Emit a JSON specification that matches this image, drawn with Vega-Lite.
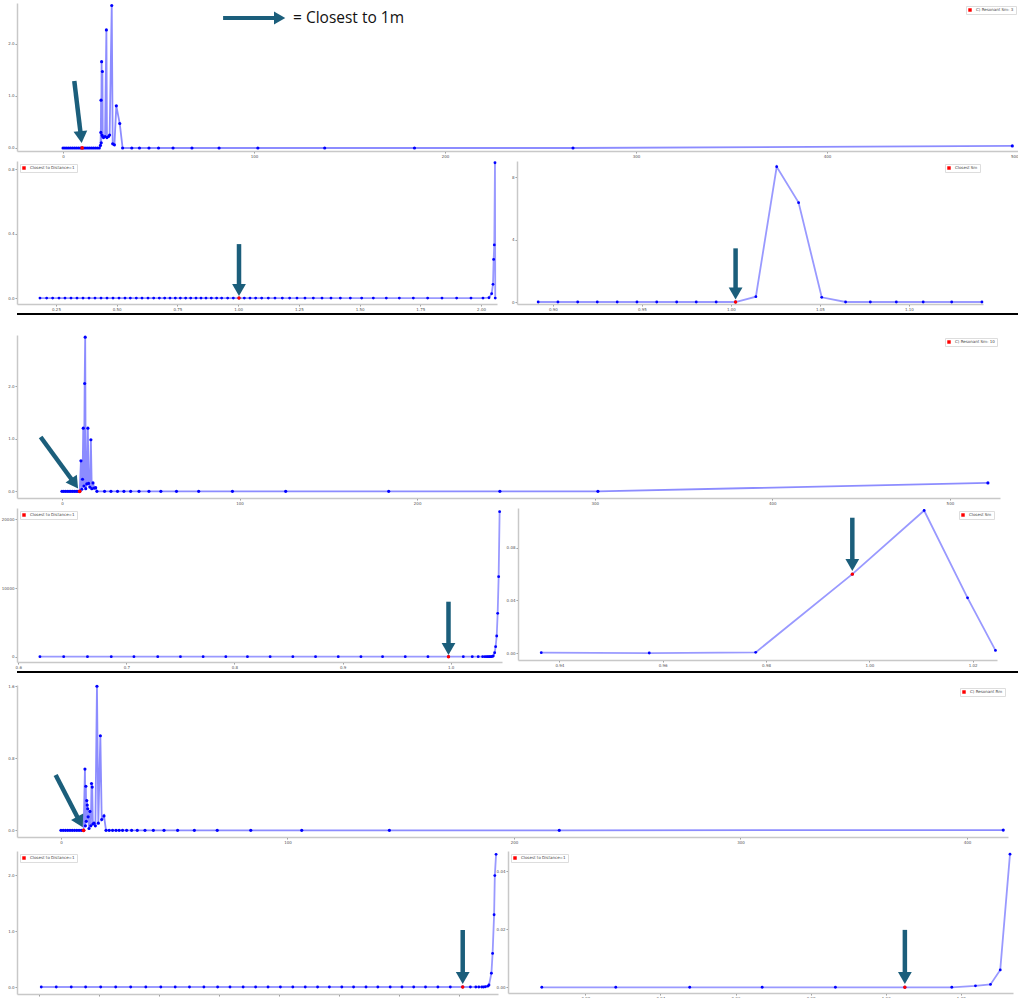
{
"$schema": "https://vega.github.io/schema/vega-lite/v6.json",
"padding": {"left": 0, "top": 1, "right": 0, "bottom": 0},
"background": "white",
"spacing": 9,
"resolve": {"scale": {"color": "independent"}, "legend": {"color": "independent"}},
"config": {
 "view": {"stroke": null},
 "font": "DejaVu Sans",
 "axis": {"grid": false, "title": null, "labelFontSize": 4, "labelColor": "#555", "domainColor": "#c8c8c8", "domainWidth": 1.5, "tickColor": "#999", "tickSize": 2, "labelPadding": 1},
 "axisY": {"minExtent": 17},
 "axisX": {"minExtent": 8},
 "legend": {"labelFontSize": 4, "symbolSize": 12, "symbolType": "square", "padding": 2, "fillColor": "white", "strokeColor": "#dddddd", "offset": 3, "labelLimit": 300, "rowPadding": 0, "symbolStrokeWidth": 0, "labelColor": "#444"}
},
"datasets": {
 "g1t": [
  {"x":0,"y":0,"c":0},{"x":1,"y":0,"c":0},{"x":2,"y":0,"c":0},{"x":3,"y":0,"c":0},{"x":4,"y":0,"c":0},{"x":5,"y":0,"c":0},{"x":6,"y":0,"c":0},{"x":7,"y":0,"c":0},{"x":8,"y":0,"c":0},{"x":9,"y":0,"c":0},{"x":10,"y":0,"c":1},{"x":11,"y":0,"c":0},{"x":12,"y":0,"c":0},{"x":13,"y":0,"c":0},{"x":14,"y":0,"c":0},{"x":15,"y":0,"c":0},{"x":16,"y":0,"c":0},{"x":17,"y":0,"c":0},{"x":18,"y":0,"c":0},{"x":19,"y":0,"c":0},
  {"x":19.6,"y":0.05,"c":0},{"x":19.8,"y":0.3,"c":0},{"x":19.9,"y":0.92,"c":0},{"x":20.0,"y":0.1,"c":0},{"x":20.2,"y":1.66,"c":0},{"x":20.4,"y":0.25,"c":0},{"x":20.6,"y":1.47,"c":0},{"x":20.8,"y":0.22,"c":0},{"x":21.2,"y":0.2,"c":0},{"x":22.0,"y":0.22,"c":0},{"x":22.7,"y":2.27,"c":0},{"x":23.0,"y":0.2,"c":0},{"x":23.8,"y":0.22,"c":0},{"x":24.4,"y":0.25,"c":0},{"x":25.5,"y":2.74,"c":0},{"x":26.0,"y":0.08,"c":0},{"x":26.9,"y":0.06,"c":0},{"x":27.9,"y":0.81,"c":0},{"x":29.7,"y":0.47,"c":0},{"x":31.2,"y":0,"c":0},
  {"x":36,"y":0,"c":0},{"x":40,"y":0,"c":0},{"x":45,"y":0,"c":0},{"x":50,"y":0,"c":0},{"x":57.6,"y":0,"c":0},{"x":67.5,"y":0,"c":0},{"x":81.7,"y":0,"c":0},{"x":102,"y":0,"c":0},{"x":137,"y":0,"c":0},{"x":184,"y":0,"c":0},{"x":267,"y":0,"c":0},{"x":497,"y":0.04,"c":0}
 ],
 "a1t": [{"x1":5.9,"y1":1.29,"x2":9.42,"y2":0.21}],
 "note": [{"x1":83.8,"x2":112,"y":2.5,"hx":113.4,"tx":120.4,"t":"=  Closest to 1m"}],
 "g1bl": [
  {"x":0.184,"y":0,"c":0},{"x":0.2116,"y":0,"c":0},{"x":0.2363,"y":0,"c":0},{"x":0.2624,"y":0,"c":0},{"x":0.2871,"y":0,"c":0},{"x":0.3118,"y":0,"c":0},{"x":0.3365,"y":0,"c":0},{"x":0.3613,"y":0,"c":0},{"x":0.386,"y":0,"c":0},{"x":0.4107,"y":0,"c":0},{"x":0.4354,"y":0,"c":0},{"x":0.4601,"y":0,"c":0},{"x":0.4848,"y":0,"c":0},{"x":0.5095,"y":0,"c":0},{"x":0.5342,"y":0,"c":0},{"x":0.5561,"y":0,"c":0},{"x":0.5808,"y":0,"c":0},{"x":0.6042,"y":0,"c":0},{"x":0.6289,"y":0,"c":0},{"x":0.6522,"y":0,"c":0},{"x":0.6755,"y":0,"c":0},{"x":0.6975,"y":0,"c":0},{"x":0.7194,"y":0,"c":0},{"x":0.7414,"y":0,"c":0},{"x":0.762,"y":0,"c":0},{"x":0.7839,"y":0,"c":0},{"x":0.8045,"y":0,"c":0},{"x":0.8265,"y":0,"c":0},{"x":0.8471,"y":0,"c":0},{"x":0.8676,"y":0,"c":0},{"x":0.8896,"y":0,"c":0},{"x":0.9115,"y":0,"c":0},{"x":0.9321,"y":0,"c":0},{"x":0.9568,"y":0,"c":0},{"x":0.9801,"y":0,"c":0},{"x":1.0035,"y":0,"c":1},
  {"x":1.0254,"y":0,"c":0},{"x":1.0488,"y":0,"c":0},{"x":1.0721,"y":0,"c":0},{"x":1.0968,"y":0,"c":0},{"x":1.1242,"y":0,"c":0},{"x":1.1517,"y":0,"c":0},{"x":1.1819,"y":0,"c":0},{"x":1.212,"y":0,"c":0},{"x":1.2422,"y":0,"c":0},{"x":1.2752,"y":0,"c":0},{"x":1.3095,"y":0,"c":0},{"x":1.3452,"y":0,"c":0},{"x":1.3822,"y":0,"c":0},{"x":1.4207,"y":0,"c":0},{"x":1.4618,"y":0,"c":0},{"x":1.5085,"y":0,"c":0},{"x":1.5565,"y":0,"c":0},{"x":1.61,"y":0,"c":0},{"x":1.6636,"y":0,"c":0},{"x":1.7212,"y":0,"c":0},{"x":1.7802,"y":0,"c":0},{"x":1.8392,"y":0,"c":0},{"x":1.8996,"y":0,"c":0},{"x":1.9586,"y":0,"c":0},{"x":2.008,"y":0,"c":0},{"x":2.0327,"y":0.002,"c":0},{"x":2.0437,"y":0.027,"c":0},{"x":2.0492,"y":0.085,"c":0},{"x":2.0519,"y":0.24,"c":0},{"x":2.0546,"y":0.33,"c":0},{"x":2.0574,"y":0.84,"c":0},{"x":2.0585,"y":0,"c":0}
 ],
 "a1bl": [{"x1":1.0035,"y1":0.335,"x2":1.0035,"y2":0.05}],
 "g1br": [
  {"x":0.8917,"y":0,"c":0},{"x":0.9028,"y":0,"c":0},{"x":0.9139,"y":0,"c":0},{"x":0.9249,"y":0,"c":0},{"x":0.9361,"y":0,"c":0},{"x":0.9472,"y":0,"c":0},{"x":0.9583,"y":0,"c":0},{"x":0.9695,"y":0,"c":0},{"x":0.9805,"y":0,"c":0},{"x":0.9917,"y":0,"c":0},{"x":1.0026,"y":0,"c":1},{"x":1.014,"y":0.34,"c":0},{"x":1.0257,"y":8.67,"c":0},{"x":1.038,"y":6.37,"c":0},{"x":1.051,"y":0.3,"c":0},{"x":1.0644,"y":0,"c":0},{"x":1.0783,"y":0,"c":0},{"x":1.0929,"y":0,"c":0},{"x":1.108,"y":0,"c":0},{"x":1.124,"y":0,"c":0},{"x":1.141,"y":0,"c":0}
 ],
 "a1br": [{"x1":1.0026,"y1":3.44,"x2":1.0026,"y2":0.545}],
 "g2t": [
  {"x":0,"y":0,"c":0},{"x":1,"y":0,"c":0},{"x":2,"y":0,"c":0},{"x":3,"y":0,"c":0},{"x":4,"y":0,"c":0},{"x":5,"y":0,"c":0},{"x":6,"y":0,"c":0},{"x":7,"y":0,"c":0},{"x":8,"y":0,"c":0},{"x":9,"y":0,"c":0},{"x":10,"y":0,"c":1},
  {"x":10.7,"y":0.58,"c":0},{"x":11.2,"y":0.04,"c":0},{"x":11.6,"y":0.23,"c":0},{"x":12.0,"y":1.2,"c":0},{"x":12.4,"y":0.1,"c":0},{"x":12.8,"y":2.05,"c":0},{"x":13.1,"y":2.93,"c":0},{"x":13.4,"y":0.05,"c":0},{"x":14.0,"y":0.14,"c":0},{"x":14.6,"y":1.2,"c":0},{"x":15.0,"y":0.15,"c":0},{"x":15.7,"y":0.08,"c":0},{"x":16.3,"y":0.98,"c":0},{"x":16.8,"y":0.05,"c":0},{"x":17.5,"y":0.16,"c":0},{"x":18.2,"y":0.06,"c":0},{"x":19.0,"y":0.07,"c":0},{"x":19.7,"y":0,"c":0},
  {"x":24,"y":0,"c":0},{"x":27.6,"y":0,"c":0},{"x":31.3,"y":0,"c":0},{"x":34.9,"y":0,"c":0},{"x":38.7,"y":0,"c":0},{"x":43.4,"y":0,"c":0},{"x":49,"y":0,"c":0},{"x":55.7,"y":0,"c":0},{"x":64.5,"y":0,"c":0},{"x":77,"y":0,"c":0},{"x":96,"y":0,"c":0},{"x":126,"y":0,"c":0},{"x":184,"y":0,"c":0},{"x":246.6,"y":0,"c":0},{"x":301.8,"y":0,"c":0},{"x":521.4,"y":0.16,"c":0}
 ],
 "a2t": [{"x1":-12.0,"y1":1.032,"x2":7.15,"y2":0.148}],
 "g2bl": [
  {"x":0.620,"y":0,"c":0},{"x":0.642,"y":0,"c":0},{"x":0.664,"y":0,"c":0},{"x":0.686,"y":0,"c":0},{"x":0.707,"y":0,"c":0},{"x":0.729,"y":0,"c":0},{"x":0.750,"y":0,"c":0},{"x":0.771,"y":0,"c":0},{"x":0.792,"y":0,"c":0},{"x":0.812,"y":0,"c":0},{"x":0.833,"y":0,"c":0},{"x":0.854,"y":0,"c":0},{"x":0.875,"y":0,"c":0},{"x":0.896,"y":0,"c":0},{"x":0.917,"y":0,"c":0},{"x":0.937,"y":0,"c":0},{"x":0.958,"y":0,"c":0},{"x":0.979,"y":0,"c":0},{"x":0.998,"y":0,"c":1},{"x":1.0117,"y":0,"c":0},{"x":1.020,"y":0,"c":0},{"x":1.0255,"y":0,"c":0},{"x":1.0296,"y":0,"c":0},{"x":1.0317,"y":0,"c":0},{"x":1.0333,"y":0,"c":0},{"x":1.0345,"y":0,"c":0},{"x":1.0357,"y":5,"c":0},{"x":1.0366,"y":10,"c":0},{"x":1.0376,"y":20,"c":0},{"x":1.0385,"y":40,"c":0},{"x":1.0394,"y":100,"c":0},{"x":1.0407,"y":580,"c":0},{"x":1.0416,"y":1460,"c":0},{"x":1.0426,"y":3010,"c":0},{"x":1.0435,"y":6320,"c":0},{"x":1.0444,"y":11650,"c":0},{"x":1.0453,"y":21117,"c":0}
 ],
 "a2bl": [{"x1":0.998,"y1":8010,"x2":0.998,"y2":1121}],
 "g2br": [
  {"x":0.9365,"y":0.0003,"c":0},{"x":0.9574,"y":0,"c":0},{"x":0.978,"y":0.0005,"c":0},{"x":0.9967,"y":0.06,"c":1},{"x":1.0106,"y":0.1084,"c":0},{"x":1.019,"y":0.042,"c":0},{"x":1.0244,"y":0.002,"c":0}
 ],
 "a2br": [{"x1":0.9967,"y1":0.1029,"x2":0.9967,"y2":0.0669}],
 "g3t": [
  {"x":0,"y":0,"c":0},{"x":1,"y":0,"c":0},{"x":2,"y":0,"c":0},{"x":3,"y":0,"c":0},{"x":4,"y":0,"c":0},{"x":5,"y":0,"c":0},{"x":6,"y":0,"c":0},{"x":7,"y":0,"c":0},{"x":8,"y":0,"c":0},{"x":9,"y":0,"c":0},{"x":10,"y":0,"c":1},
  {"x":10.6,"y":0.68,"c":0},{"x":10.8,"y":0.05,"c":0},{"x":11.0,"y":0.49,"c":0},{"x":11.2,"y":0.1,"c":0},{"x":11.4,"y":0.33,"c":0},{"x":11.6,"y":0.28,"c":0},{"x":11.8,"y":0.24,"c":0},{"x":12.0,"y":0.15,"c":0},{"x":12.4,"y":0.02,"c":0},{"x":12.8,"y":0.21,"c":0},{"x":13.2,"y":0.05,"c":0},{"x":13.5,"y":0.52,"c":0},{"x":13.8,"y":0.48,"c":0},{"x":14.1,"y":0.07,"c":0},{"x":14.6,"y":0.08,"c":0},{"x":15.2,"y":0.05,"c":0},{"x":15.9,"y":1.6,"c":0},{"x":16.5,"y":0.08,"c":0},{"x":17.4,"y":1.05,"c":0},{"x":18.0,"y":0.12,"c":0},{"x":19.0,"y":0.16,"c":0},{"x":19.9,"y":0,"c":0},
  {"x":21.3,"y":0,"c":0},{"x":22.8,"y":0,"c":0},{"x":24.3,"y":0,"c":0},{"x":25.7,"y":0,"c":0},{"x":27.2,"y":0,"c":0},{"x":29,"y":0,"c":0},{"x":31.2,"y":0,"c":0},{"x":33.7,"y":0,"c":0},{"x":37.1,"y":0,"c":0},{"x":40.8,"y":0,"c":0},{"x":45.5,"y":0,"c":0},{"x":51.5,"y":0,"c":0},{"x":58.9,"y":0,"c":0},{"x":69,"y":0,"c":0},{"x":83.8,"y":0,"c":0},{"x":106.3,"y":0,"c":0},{"x":145,"y":0,"c":0},{"x":220,"y":0,"c":0},{"x":416,"y":0.003,"c":0}
 ],
 "a3t": [{"x1":-2.34,"y1":0.614,"x2":8.39,"y2":0.092}],
 "g3bl": [
  {"x":0.3037,"y":0,"c":0},{"x":0.3287,"y":0,"c":0},{"x":0.3537,"y":0,"c":0},{"x":0.3777,"y":0,"c":0},{"x":0.4028,"y":0,"c":0},{"x":0.4278,"y":0,"c":0},{"x":0.4528,"y":0,"c":0},{"x":0.478,"y":0,"c":0},{"x":0.503,"y":0,"c":0},{"x":0.527,"y":0,"c":0},{"x":0.5508,"y":0,"c":0},{"x":0.5748,"y":0,"c":0},{"x":0.5977,"y":0,"c":0},{"x":0.6183,"y":0,"c":0},{"x":0.6402,"y":0,"c":0},{"x":0.661,"y":0,"c":0},{"x":0.6817,"y":0,"c":0},{"x":0.7023,"y":0,"c":0},{"x":0.723,"y":0,"c":0},{"x":0.7437,"y":0,"c":0},{"x":0.7643,"y":0,"c":0},{"x":0.784,"y":0,"c":0},{"x":0.8047,"y":0,"c":0},{"x":0.8243,"y":0,"c":0},{"x":0.845,"y":0,"c":0},{"x":0.8647,"y":0,"c":0},{"x":0.8853,"y":0,"c":0},{"x":0.905,"y":0,"c":0},{"x":0.9245,"y":0,"c":0},{"x":0.9442,"y":0,"c":0},{"x":0.9648,"y":0,"c":0},{"x":0.9855,"y":0,"c":0},{"x":1.0062,"y":0,"c":1},{"x":1.019,"y":0,"c":0},{"x":1.028,"y":0,"c":0},{"x":1.033,"y":0,"c":0},{"x":1.038,"y":0,"c":0},{"x":1.041,"y":0,"c":0},{"x":1.044,"y":0.005,"c":0},{"x":1.048,"y":0.015,"c":0},{"x":1.050,"y":0.036,"c":0},{"x":1.054,"y":0.245,"c":0},{"x":1.056,"y":0.6,"c":0},{"x":1.0585,"y":1.29,"c":0},{"x":1.0597,"y":1.99,"c":0},{"x":1.0618,"y":2.37,"c":0}
 ],
 "a3bl": [{"x1":1.0062,"y1":1.018,"x2":1.0062,"y2":0.161}],
 "g3br": [
  {"x":0.9084,"y":0,"c":0},{"x":0.9281,"y":0,"c":0},{"x":0.9478,"y":0,"c":0},{"x":0.9671,"y":0,"c":0},{"x":0.9866,"y":0,"c":0},{"x":1.0051,"y":0,"c":1},{"x":1.0176,"y":0,"c":0},{"x":1.0239,"y":0.0005,"c":0},{"x":1.0279,"y":0.001,"c":0},{"x":1.0305,"y":0.006,"c":0},{"x":1.0331,"y":0.0459,"c":0}
 ],
 "a3br": [{"x1":1.0051,"y1":0.0198,"x2":1.0051,"y2":0.0032}],
 "one": [{"k":1}]
},
"vconcat": [
 {
  "spacing": 18,
  "resolve": {"scale": {"color": "independent"}, "legend": {"color": "independent"}},
  "vconcat": [
   {
    "spacing": 0,
    "resolve": {"scale": {"color": "independent"}, "legend": {"color": "independent"}},
    "vconcat": [
     {
      "spacing": 0,
      "resolve": {"scale": {"color": "independent"}, "legend": {"color": "independent"}},
      "vconcat": [
       {
        "width": 1002, "height": 148,
        "layer": [
         {"data": {"name": "g1t"}, "mark": {"type": "line", "color": "#0000ff", "opacity": 0.45, "strokeWidth": 1.8},
          "encoding": {"x": {"field": "x", "type": "quantitative", "scale": {"domain": [-24.1, 500.5], "nice": false, "zero": false}, "axis": {"values": [0,100,200,300,400,500], "format": "d"}},
                       "y": {"field": "y", "type": "quantitative", "scale": {"domain": [-0.058, 2.788], "nice": false, "zero": false}, "axis": {"values": [0,0.5,1,1.5,2,2.5], "format": ".1f"}}}},
         {"data": {"name": "g1t"}, "mark": {"type": "point", "filled": true, "color": "#0000ff", "size": 10, "opacity": 1},
          "encoding": {"x": {"field": "x", "type": "quantitative"}, "y": {"field": "y", "type": "quantitative"}}},
         {"data": {"name": "g1t"}, "transform": [{"filter": "datum.c == 1"}], "mark": {"type": "point", "filled": true, "size": 14, "opacity": 1},
          "encoding": {"x": {"field": "x", "type": "quantitative"}, "y": {"field": "y", "type": "quantitative"},
                       "color": {"datum": "C) Resonant Sm: 3", "scale": {"range": ["#ff0000"]}, "legend": {"orient": "top-right", "title": null}}}},
         {"data": {"name": "a1t"}, "mark": {"type": "rule", "color": "#1b5e7b", "strokeWidth": 4.5},
          "encoding": {"x": {"field": "x1", "type": "quantitative"}, "y": {"field": "y1", "type": "quantitative"}, "x2": {"field": "x2"}, "y2": {"field": "y2"}}},
         {"data": {"name": "a1t"}, "mark": {"type": "point", "shape": "triangle-down", "filled": true, "color": "#1b5e7b", "size": 190, "opacity": 1, "angle": -6},
          "encoding": {"x": {"field": "x2", "type": "quantitative"}, "y": {"field": "y2", "type": "quantitative"}}},
         {"data": {"name": "note"}, "mark": {"type": "rule", "color": "#1b5e7b", "strokeWidth": 4},
          "encoding": {"x": {"field": "x1", "type": "quantitative"}, "x2": {"field": "x2"}, "y": {"field": "y", "type": "quantitative"}}},
         {"data": {"name": "note"}, "mark": {"type": "point", "shape": "triangle-right", "filled": true, "color": "#1b5e7b", "size": 170, "opacity": 1},
          "encoding": {"x": {"field": "hx", "type": "quantitative"}, "y": {"field": "y", "type": "quantitative"}}},
         {"data": {"name": "note"}, "mark": {"type": "text", "font": "Open Sans", "fontSize": 15.5, "align": "left", "baseline": "middle", "color": "#111"},
          "encoding": {"x": {"field": "tx", "type": "quantitative"}, "y": {"field": "y", "type": "quantitative"}, "text": {"field": "t"}}}
        ]
       },
       {
        "bounds": "flush", "spacing": 20,
        "resolve": {"scale": {"color": "independent"}, "legend": {"color": "independent"}},
        "hconcat": [
         {
          "width": 480, "height": 143,
          "layer": [
           {"data": {"name": "g1bl"}, "mark": {"type": "line", "color": "#0000ff", "opacity": 0.4, "strokeWidth": 1.8},
            "encoding": {"x": {"field": "x", "type": "quantitative", "scale": {"domain": [0.0895, 2.0657], "nice": false, "zero": false}, "axis": {"values": [0.25,0.5,0.75,1,1.25,1.5,1.75,2], "format": ".2f"}},
                         "y": {"field": "y", "type": "quantitative", "scale": {"domain": [-0.037, 0.851], "nice": false, "zero": false}, "axis": {"values": [0,0.2,0.4,0.6,0.8], "format": ".1f"}}}},
           {"data": {"name": "g1bl"}, "mark": {"type": "point", "filled": true, "color": "#0000ff", "size": 8, "opacity": 1},
            "encoding": {"x": {"field": "x", "type": "quantitative"}, "y": {"field": "y", "type": "quantitative"}}},
           {"data": {"name": "g1bl"}, "transform": [{"filter": "datum.c == 1"}], "mark": {"type": "point", "filled": true, "size": 12, "opacity": 1},
            "encoding": {"x": {"field": "x", "type": "quantitative"}, "y": {"field": "y", "type": "quantitative"},
                         "color": {"datum": "Closest to Distance=1", "scale": {"range": ["#ff0000"]}, "legend": {"orient": "top-left", "title": null}}}},
           {"data": {"name": "a1bl"}, "mark": {"type": "rule", "color": "#1b5e7b", "strokeWidth": 4.5},
            "encoding": {"x": {"field": "x1", "type": "quantitative"}, "y": {"field": "y1", "type": "quantitative"}, "x2": {"field": "x2"}, "y2": {"field": "y2"}}},
           {"data": {"name": "a1bl"}, "mark": {"type": "point", "shape": "triangle-down", "filled": true, "color": "#1b5e7b", "size": 190, "opacity": 1},
            "encoding": {"x": {"field": "x2", "type": "quantitative"}, "y": {"field": "y2", "type": "quantitative"}}}
          ]
         },
         {
          "width": 466, "height": 143,
          "layer": [
           {"data": {"name": "g1br"}, "mark": {"type": "line", "color": "#0000ff", "opacity": 0.4, "strokeWidth": 1.8},
            "encoding": {"x": {"field": "x", "type": "quantitative", "scale": {"domain": [0.8798, 1.1416], "nice": false, "zero": false}, "axis": {"values": [0.9,0.95,1,1.05,1.1], "format": ".2f"}},
                         "y": {"field": "y", "type": "quantitative", "scale": {"domain": [-0.128, 9.04], "nice": false, "zero": false}, "axis": {"values": [0,2,4,6,8], "format": "d"}}}},
           {"data": {"name": "g1br"}, "mark": {"type": "point", "filled": true, "color": "#0000ff", "size": 8, "opacity": 1},
            "encoding": {"x": {"field": "x", "type": "quantitative"}, "y": {"field": "y", "type": "quantitative"}}},
           {"data": {"name": "g1br"}, "transform": [{"filter": "datum.c == 1"}], "mark": {"type": "point", "filled": true, "size": 12, "opacity": 1},
            "encoding": {"x": {"field": "x", "type": "quantitative"}, "y": {"field": "y", "type": "quantitative"},
                         "color": {"datum": "Closest Sm", "scale": {"range": ["#ff0000"]}, "legend": {"orient": "top-right", "title": null}}}},
           {"data": {"name": "a1br"}, "mark": {"type": "rule", "color": "#1b5e7b", "strokeWidth": 4.5},
            "encoding": {"x": {"field": "x1", "type": "quantitative"}, "y": {"field": "y1", "type": "quantitative"}, "x2": {"field": "x2"}, "y2": {"field": "y2"}}},
           {"data": {"name": "a1br"}, "mark": {"type": "point", "shape": "triangle-down", "filled": true, "color": "#1b5e7b", "size": 190, "opacity": 1},
            "encoding": {"x": {"field": "x2", "type": "quantitative"}, "y": {"field": "y2", "type": "quantitative"}}}
          ]
         }
        ]
       }
      ]
     },
     {"width": 1018, "height": 2, "view": {"fill": "black", "stroke": null}, "data": {"name": "one"}, "mark": {"type": "rule", "opacity": 0}, "encoding": {}}
    ]
   },
   {
    "spacing": 0,
    "resolve": {"scale": {"color": "independent"}, "legend": {"color": "independent"}},
    "vconcat": [
     {
      "spacing": 0,
      "resolve": {"scale": {"color": "independent"}, "legend": {"color": "independent"}},
      "vconcat": [
       {
        "width": 983, "height": 163,
        "layer": [
         {"data": {"name": "g2t"}, "mark": {"type": "line", "color": "#0000ff", "opacity": 0.45, "strokeWidth": 1.8},
          "encoding": {"x": {"field": "x", "type": "quantitative", "scale": {"domain": [-25.3, 528.2], "nice": false, "zero": false}, "axis": {"values": [0,100,200,300,400,500], "format": "d"}},
                       "y": {"field": "y", "type": "quantitative", "scale": {"domain": [-0.127, 2.971], "nice": false, "zero": false}, "axis": {"values": [0,0.5,1,1.5,2,2.5], "format": ".1f"}}}},
         {"data": {"name": "g2t"}, "mark": {"type": "point", "filled": true, "color": "#0000ff", "size": 10, "opacity": 1},
          "encoding": {"x": {"field": "x", "type": "quantitative"}, "y": {"field": "y", "type": "quantitative"}}},
         {"data": {"name": "g2t"}, "transform": [{"filter": "datum.c == 1"}], "mark": {"type": "point", "filled": true, "size": 14, "opacity": 1},
          "encoding": {"x": {"field": "x", "type": "quantitative"}, "y": {"field": "y", "type": "quantitative"},
                       "color": {"datum": "C) Resonant Sm: 10", "scale": {"range": ["#ff0000"]}, "legend": {"orient": "top-right", "title": null}}}},
         {"data": {"name": "a2t"}, "mark": {"type": "rule", "color": "#1b5e7b", "strokeWidth": 4.5},
          "encoding": {"x": {"field": "x1", "type": "quantitative"}, "y": {"field": "y1", "type": "quantitative"}, "x2": {"field": "x2"}, "y2": {"field": "y2"}}},
         {"data": {"name": "a2t"}, "mark": {"type": "point", "shape": "triangle-down", "filled": true, "color": "#1b5e7b", "size": 190, "opacity": 1, "angle": -35},
          "encoding": {"x": {"field": "x2", "type": "quantitative"}, "y": {"field": "y2", "type": "quantitative"}}}
        ]
       },
       {
        "bounds": "flush", "spacing": 16,
        "resolve": {"scale": {"color": "independent"}, "legend": {"color": "independent"}},
        "hconcat": [
         {
          "width": 485, "height": 154,
          "layer": [
           {"data": {"name": "g2bl"}, "mark": {"type": "line", "color": "#0000ff", "opacity": 0.4, "strokeWidth": 1.8},
            "encoding": {"x": {"field": "x", "type": "quantitative", "scale": {"domain": [0.5988, 1.0475], "nice": false, "zero": false}, "axis": {"values": [0.6,0.7,0.8,0.9,1.0], "format": ".1f"}},
                         "y": {"field": "y", "type": "quantitative", "scale": {"domain": [-772, 21657], "nice": false, "zero": false}, "axis": {"values": [0,5000,10000,15000,20000], "format": "d"}}}},
           {"data": {"name": "g2bl"}, "mark": {"type": "point", "filled": true, "color": "#0000ff", "size": 8, "opacity": 1},
            "encoding": {"x": {"field": "x", "type": "quantitative"}, "y": {"field": "y", "type": "quantitative"}}},
           {"data": {"name": "g2bl"}, "transform": [{"filter": "datum.c == 1"}], "mark": {"type": "point", "filled": true, "size": 12, "opacity": 1},
            "encoding": {"x": {"field": "x", "type": "quantitative"}, "y": {"field": "y", "type": "quantitative"},
                         "color": {"datum": "Closest to Distance=1", "scale": {"range": ["#ff0000"]}, "legend": {"orient": "top-left", "title": null}}}},
           {"data": {"name": "a2bl"}, "mark": {"type": "rule", "color": "#1b5e7b", "strokeWidth": 4.5},
            "encoding": {"x": {"field": "x1", "type": "quantitative"}, "y": {"field": "y1", "type": "quantitative"}, "x2": {"field": "x2"}, "y2": {"field": "y2"}}},
           {"data": {"name": "a2bl"}, "mark": {"type": "point", "shape": "triangle-down", "filled": true, "color": "#1b5e7b", "size": 190, "opacity": 1},
            "encoding": {"x": {"field": "x2", "type": "quantitative"}, "y": {"field": "y2", "type": "quantitative"}}}
          ]
         },
         {
          "width": 479, "height": 152,
          "layer": [
           {"data": {"name": "g2br"}, "mark": {"type": "line", "color": "#0000ff", "opacity": 0.4, "strokeWidth": 1.8},
            "encoding": {"x": {"field": "x", "type": "quantitative", "scale": {"domain": [0.932, 1.0247], "nice": false, "zero": false}, "axis": {"values": [0.94,0.96,0.98,1.0,1.02], "format": ".2f"}},
                         "y": {"field": "y", "type": "quantitative", "scale": {"domain": [-0.0053, 0.1103], "nice": false, "zero": false}, "axis": {"values": [0,0.02,0.04,0.06,0.08,0.1], "format": ".2f"}}}},
           {"data": {"name": "g2br"}, "mark": {"type": "point", "filled": true, "color": "#0000ff", "size": 8, "opacity": 1},
            "encoding": {"x": {"field": "x", "type": "quantitative"}, "y": {"field": "y", "type": "quantitative"}}},
           {"data": {"name": "g2br"}, "transform": [{"filter": "datum.c == 1"}], "mark": {"type": "point", "filled": true, "size": 12, "opacity": 1},
            "encoding": {"x": {"field": "x", "type": "quantitative"}, "y": {"field": "y", "type": "quantitative"},
                         "color": {"datum": "Closest Sm", "scale": {"range": ["#ff0000"]}, "legend": {"orient": "top-right", "title": null}}}},
           {"data": {"name": "a2br"}, "mark": {"type": "rule", "color": "#1b5e7b", "strokeWidth": 4.5},
            "encoding": {"x": {"field": "x1", "type": "quantitative"}, "y": {"field": "y1", "type": "quantitative"}, "x2": {"field": "x2"}, "y2": {"field": "y2"}}},
           {"data": {"name": "a2br"}, "mark": {"type": "point", "shape": "triangle-down", "filled": true, "color": "#1b5e7b", "size": 190, "opacity": 1},
            "encoding": {"x": {"field": "x2", "type": "quantitative"}, "y": {"field": "y2", "type": "quantitative"}}}
          ]
         }
        ]
       }
      ]
     },
     {"width": 1018, "height": 2, "view": {"fill": "black", "stroke": null}, "data": {"name": "one"}, "mark": {"type": "rule", "opacity": 0}, "encoding": {}}
    ]
   }
  ]
 },
 {
  "spacing": 5,
  "resolve": {"scale": {"color": "independent"}, "legend": {"color": "independent"}},
  "vconcat": [
   {
    "width": 991, "height": 152,
    "layer": [
     {"data": {"name": "g3t"}, "mark": {"type": "line", "color": "#0000ff", "opacity": 0.45, "strokeWidth": 1.8},
      "encoding": {"x": {"field": "x", "type": "quantitative", "scale": {"domain": [-19.4, 418.1], "nice": false, "zero": false}, "axis": {"values": [0,100,200,300,400], "format": "d"}},
                   "y": {"field": "y", "type": "quantitative", "scale": {"domain": [-0.074, 1.614], "nice": false, "zero": false}, "axis": {"values": [0,0.2,0.4,0.6,0.8,1.0,1.2,1.4,1.6], "format": ".1f"}}}},
     {"data": {"name": "g3t"}, "mark": {"type": "point", "filled": true, "color": "#0000ff", "size": 10, "opacity": 1},
      "encoding": {"x": {"field": "x", "type": "quantitative"}, "y": {"field": "y", "type": "quantitative"}}},
     {"data": {"name": "g3t"}, "transform": [{"filter": "datum.c == 1"}], "mark": {"type": "point", "filled": true, "size": 14, "opacity": 1},
      "encoding": {"x": {"field": "x", "type": "quantitative"}, "y": {"field": "y", "type": "quantitative"},
                   "color": {"datum": "C) Resonant Rm", "scale": {"range": ["#ff0000"]}, "legend": {"orient": "top-right", "title": null}}}},
     {"data": {"name": "a3t"}, "mark": {"type": "rule", "color": "#1b5e7b", "strokeWidth": 4.5},
      "encoding": {"x": {"field": "x1", "type": "quantitative"}, "y": {"field": "y1", "type": "quantitative"}, "x2": {"field": "x2"}, "y2": {"field": "y2"}}},
     {"data": {"name": "a3t"}, "mark": {"type": "point", "shape": "triangle-down", "filled": true, "color": "#1b5e7b", "size": 190, "opacity": 1, "angle": -28},
      "encoding": {"x": {"field": "x2", "type": "quantitative"}, "y": {"field": "y2", "type": "quantitative"}}}
    ]
   },
   {
    "bounds": "flush", "spacing": 10,
    "resolve": {"scale": {"color": "independent"}, "legend": {"color": "independent"}},
    "hconcat": [
     {
      "width": 481, "height": 143,
      "layer": [
       {"data": {"name": "g3bl"}, "mark": {"type": "line", "color": "#0000ff", "opacity": 0.4, "strokeWidth": 1.8},
        "encoding": {"x": {"field": "x", "type": "quantitative", "scale": {"domain": [0.2633, 1.065], "nice": false, "zero": false}, "axis": {"values": [0.3,0.4,0.5,0.6,0.7,0.8,0.9,1.0], "format": ".1f"}},
                     "y": {"field": "y", "type": "quantitative", "scale": {"domain": [-0.125, 2.429], "nice": false, "zero": false}, "axis": {"values": [0,0.5,1,1.5,2], "format": ".1f"}}}},
       {"data": {"name": "g3bl"}, "mark": {"type": "point", "filled": true, "color": "#0000ff", "size": 8, "opacity": 1},
        "encoding": {"x": {"field": "x", "type": "quantitative"}, "y": {"field": "y", "type": "quantitative"}}},
       {"data": {"name": "g3bl"}, "transform": [{"filter": "datum.c == 1"}], "mark": {"type": "point", "filled": true, "size": 12, "opacity": 1},
        "encoding": {"x": {"field": "x", "type": "quantitative"}, "y": {"field": "y", "type": "quantitative"},
                     "color": {"datum": "Closest to Distance=1", "scale": {"range": ["#ff0000"]}, "legend": {"orient": "top-left", "title": null}}}},
       {"data": {"name": "a3bl"}, "mark": {"type": "rule", "color": "#1b5e7b", "strokeWidth": 4.5},
        "encoding": {"x": {"field": "x1", "type": "quantitative"}, "y": {"field": "y1", "type": "quantitative"}, "x2": {"field": "x2"}, "y2": {"field": "y2"}}},
       {"data": {"name": "a3bl"}, "mark": {"type": "point", "shape": "triangle-down", "filled": true, "color": "#1b5e7b", "size": 190, "opacity": 1},
        "encoding": {"x": {"field": "x2", "type": "quantitative"}, "y": {"field": "y2", "type": "quantitative"}}}
      ]
     },
     {
      "width": 505, "height": 142,
      "layer": [
       {"data": {"name": "g3br"}, "mark": {"type": "line", "color": "#0000ff", "opacity": 0.4, "strokeWidth": 1.8},
        "encoding": {"x": {"field": "x", "type": "quantitative", "scale": {"domain": [0.8994, 1.0339], "nice": false, "zero": false}, "axis": {"values": [0.92,0.94,0.96,0.98,1.0,1.02], "format": ".2f"}},
                     "y": {"field": "y", "type": "quantitative", "scale": {"domain": [-0.00197, 0.047], "nice": false, "zero": false}, "axis": {"values": [0,0.01,0.02,0.03,0.04], "format": ".2f"}}}},
       {"data": {"name": "g3br"}, "mark": {"type": "point", "filled": true, "color": "#0000ff", "size": 8, "opacity": 1},
        "encoding": {"x": {"field": "x", "type": "quantitative"}, "y": {"field": "y", "type": "quantitative"}}},
       {"data": {"name": "g3br"}, "transform": [{"filter": "datum.c == 1"}], "mark": {"type": "point", "filled": true, "size": 12, "opacity": 1},
        "encoding": {"x": {"field": "x", "type": "quantitative"}, "y": {"field": "y", "type": "quantitative"},
                     "color": {"datum": "Closest to Distance=1", "scale": {"range": ["#ff0000"]}, "legend": {"orient": "top-left", "title": null}}}},
       {"data": {"name": "a3br"}, "mark": {"type": "rule", "color": "#1b5e7b", "strokeWidth": 4.5},
        "encoding": {"x": {"field": "x1", "type": "quantitative"}, "y": {"field": "y1", "type": "quantitative"}, "x2": {"field": "x2"}, "y2": {"field": "y2"}}},
       {"data": {"name": "a3br"}, "mark": {"type": "point", "shape": "triangle-down", "filled": true, "color": "#1b5e7b", "size": 190, "opacity": 1},
        "encoding": {"x": {"field": "x2", "type": "quantitative"}, "y": {"field": "y2", "type": "quantitative"}}}
      ]
     }
    ]
   }
  ]
 }
]
}
